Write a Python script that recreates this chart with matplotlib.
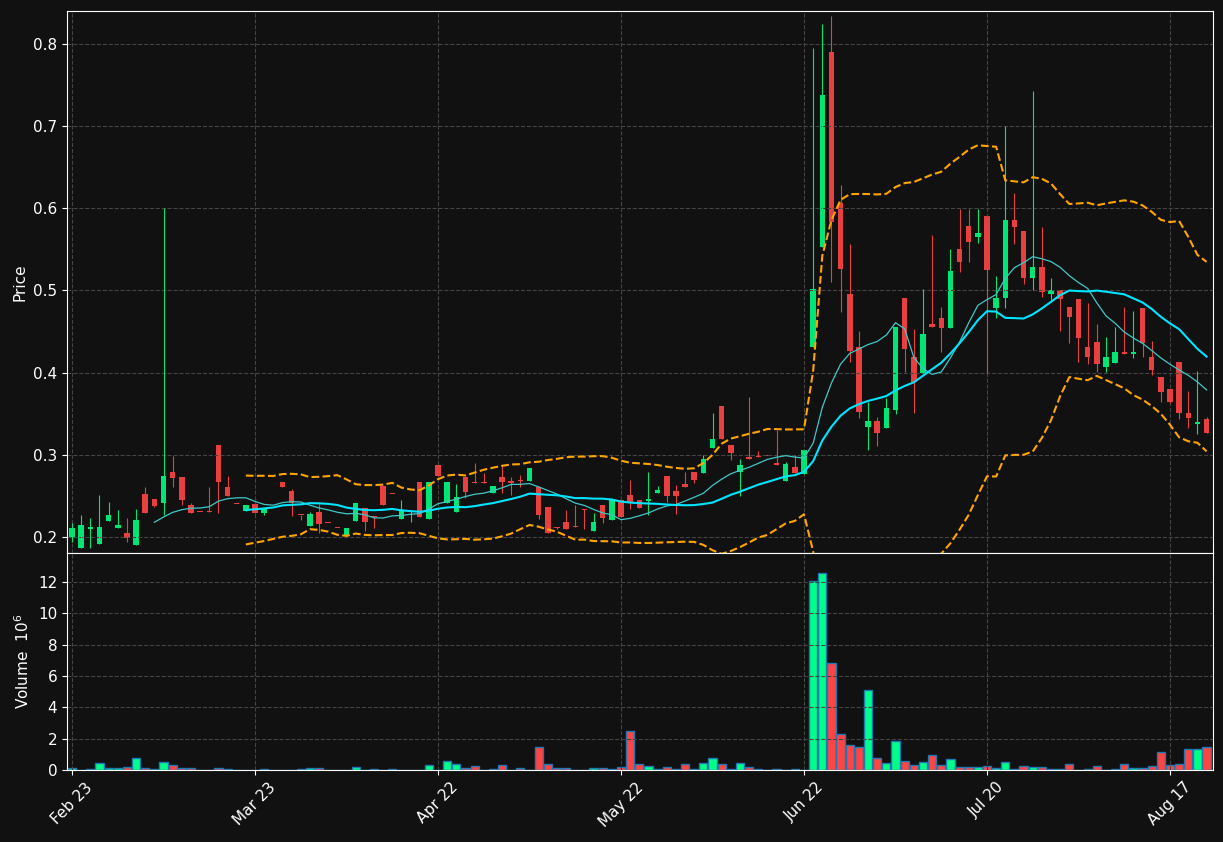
import numpy as np
import pandas as pd
import matplotlib.pyplot as plt

# OHLC per candle
opens = [.200, .186, .210, .191, .220, .2113, .2045, .190, .2523, .2462,
         .2417, .279, .273, .239, .2305, .2305, .312, .2605, .2402, .232,
         .240, .2296, .2357, .2673, .256, .2268, .2138, .2304, .217, .2108,
         .2016, .2198, .235, .2242, .262, .2522, .2223, .2308, .267, .2223,
         .2876, .241, .2308, .273, .2662, .266, .254, .273, .2681, .2681,
         .2685, .2612, .2369, .2115, .2186, .2125, .2337, .2077, .239, .2207,
         .245, .2511, .245, .2442, .254, .2742, .256, .2645, .2787, .2782,
         .3087, .3594, .312, .2795, .2974, .299, .2984, .2897, .2685, .2848,
         .2767, .4309, .5533, .7902, .6061, .4954, .4316, .3335, .3412, .3323,
         .3546, .4905, .4194, .400, .4592, .4669, .4548, .5501, .5785, .5655,
         .5907, .4791, .4905, .5858, .5724, .5156, .5282, .4954, .5006, .4795,
         .4892, .4309, .437, .4065, .4121, .4248, .4224, .4791, .4187, .3951,
         .3797, .4133, .3505, .3379, .3432]
highs = [.217, .227, .223, .251, .242, .233, .2228, .2337, .2605, .2462,
         .600, .2986, .273, .2417, .2305, .2605, .312, .2739, .2402, .239,
         .240, .2357, .2357, .2673, .2584, .2268, .230, .2398, .217, .2108,
         .2106, .241, .235, .2242, .262, .2522, .245, .231, .267, .267,
         .2876, .267, .264, .273, .2897, .2775, .262, .2876, .273, .2755,
         .284, .2612, .2369, .2122, .233, .239, .2337, .2296, .239, .2459,
         .245, .2694, .245, .2787, .2624, .2742, .263, .2795, .2787, .2994,
         .3505, .3594, .312, .295, .370, .3043, .2984, .330, .2913, .2998,
         .3059, .7955, .824, .834, .6284, .5562, .4511, .3647, .3464, .3688,
         .4552, .4905, .4528, .5014, .5675, .4795, .5501, .5992, .5992, .599,
         .5907, .518, .700, .6183, .5724, .7432, .5777, .5156, .5006, .4795,
         .4892, .4844, .4589, .4438, .4559, .4803, .4754, .4791, .4389, .3951,
         .3797, .4133, .378, .4024, .3464]
lows = [.194, .186, .186, .191, .220, .2113, .194, .190, .2296, .2361,
        .2268, .2612, .239, .2296, .2298, .230, .2296, .2503, .2398, .232,
        .2296, .2264, .2357, .2612, .226, .2207, .2138, .2045, .2167, .2106,
        .2016, .2198, .2077, .2106, .239, .252, .2223, .2186, .2247, .2223,
        .2746, .241, .2308, .247, .266, .2657, .254, .253, .251, .2612,
        .2685, .2215, .2052, .210, .2097, .2122, .2094, .2077, .2167, .2207,
        .224, .2337, .2357, .2268, .254, .243, .228, .2612, .2653, .2782,
        .3087, .3193, .2937, .250, .2953, .2977, .2982, .2876, .2685, .2775,
        .2767, .4309, .5533, .5107, .4742, .4133, .3445, .3059, .3107, .3323,
        .3497, .4012, .3505, .400, .4559, .4255, .4548, .5229, .535, .5574,
        .400, .4662, .4783, .556, .5075, .5006, .4924, .4884, .4507, .4357,
        .4133, .4105, .4012, .4012, .4121, .4224, .4175, .4194, .3972, .3647,
        .3627, .3432, .3323, .3254, .327]
closes = [.211, .215, .2125, .212, .2268, .2146, .199, .2207, .2296, .2381,
          .2742, .272, .245, .2296, .2298, .230, .2673, .2503, .2398, .239,
          .2296, .2357, .2357, .2612, .241, .2264, .228, .2162, .2167, .2106,
          .2106, .241, .2186, .224, .239, .252, .2329, .231, .2247, .267,
          .2746, .267, .249, .2551, .266, .2657, .262, .2673, .266, .2678,
          .284, .2268, .2052, .2113, .2097, .2122, .2334, .2186, .2235, .2459,
          .224, .243, .2357, .2466, .2572, .250, .2503, .2612, .2694, .2946,
          .3189, .3193, .3019, .2873, .2953, .2977, .2982, .2876, .2888, .2775,
          .3059, .5014, .7379, .5837, .5258, .4264, .3525, .3412, .3262, .3566,
          .4552, .4285, .389, .4473, .4559, .4548, .5237, .535, .5594, .5696,
          .525, .4905, .5858, .5777, .5156, .5282, .4985, .5006, .4892, .4681,
          .4418, .4194, .4102, .4194, .4248, .4224, .4248, .4357, .4032, .3768,
          .3647, .3505, .3444, .340, .327]
# volume in millions
volumes = [.1, 0, .04, .43, .1, .1, .17, .75, .1, .04,
           .49, .30, .1, .1, 0, 0, .1, .04, 0, 0,
           0, .04, 0, 0, 0, .04, .1, .1, 0, 0,
           0, .17, 0, .04, 0, .04, 0, 0, 0, .30,
           0, .56, .37, .1, .24, 0, .04, .30, 0, .1,
           0, 1.46, .37, .1, .1, 0, 0, .1, .1, .04,
           .17, 2.47, .36, .23, .09, .17, .04, .36, .04, .43,
           .75, .36, .04, .43, .17, .04, 0, .04, 0, .04,
           .02, 12.07, 12.58, 6.82, 2.28, 1.58, 1.45, 5.10, .75, .43,
           1.83, .55, .30, .49, .94, .30, .68, .17, .17, .17,
           .23, .11, .49, .04, .23, .17, .17, .04, .04, .36,
           0, .04, .23, 0, .04, .36, .11, .11, .23, 1.13,
           .30, .36, 1.32, 1.32, 1.45]
tick_labels = ['Feb 23', 'Mar 23', 'Apr 22', 'May 22', 'Jun 22', 'Jul 20', 'Aug 17']
tick_pos = [0, 20, 40, 60, 80, 100, 120]

df = pd.DataFrame({'Open': opens, 'High': highs, 'Low': lows,
                   'Close': closes, 'Volume': volumes})
x = np.arange(len(df))
up = df['Close'] >= df['Open']

bg = '#111111'
green, red = '#00e676', '#e84040'
vgreen, vred = '#00ff88', '#ff4444'

fig = plt.figure(figsize=(12.23, 8.42), dpi=100, facecolor=bg)
ax = fig.add_axes([67/1223, 1-553/842, 1146/1223, 542/842], facecolor=bg)
axv = fig.add_axes([67/1223, 1-770/842, 1146/1223, 217/842], facecolor=bg, sharex=ax)

# candles
for i in x:
    c = green if up[i] else red
    ax.vlines(i, df['Low'][i], df['High'][i], color=c, lw=0.8)
    lo = min(df['Open'][i], df['Close'][i])
    h = max(abs(df['Close'][i] - df['Open'][i]), 0.0012)
    ax.bar(i, h, 0.6, bottom=lo, color=c, lw=0)

# moving averages and bands
ma10 = df['Close'].rolling(10).mean()
ma20 = df['Close'].rolling(20).mean()
sd20 = df['Close'].rolling(20).std()
ax.plot(x, ma10, color='#40c8c8', lw=0.9)
ax.plot(x, ma20, color='#00e5ff', lw=1.5)
ax.plot(x, ma20 + 2*sd20, color='orange', lw=1.5, ls='--')
ax.plot(x, ma20 - 2*sd20, color='orange', lw=1.5, ls='--')

ax.set_ylim(0.1805, 0.840)
ax.set_xlim(-0.55, 124.7)
ax.set_ylabel('Price', color='white')

# volume
axv.bar(x, df['Volume'], 0.9, color=np.where(up, vgreen, vred),
        edgecolor='#1f77b4', lw=1)
axv.set_ylim(0, 13.85)
axv.set_yticks([0, 2, 4, 6, 8, 10, 12])
axv.set_ylabel('Volume  $10^6$', color='white')
axv.set_xticks(tick_pos)
axv.set_xticklabels(tick_labels, rotation=45, ha='center')

for a in (ax, axv):
    a.grid(True, color='#444444', ls='--', lw=0.8)
    a.tick_params(colors='white', labelsize=11)
    for s in a.spines.values():
        s.set_color('white')
plt.setp(ax.get_xticklabels(), visible=False)
ax.yaxis.label.set_size(11)
axv.yaxis.label.set_size(11)

fig.savefig('out.png', dpi=100, facecolor=bg)
